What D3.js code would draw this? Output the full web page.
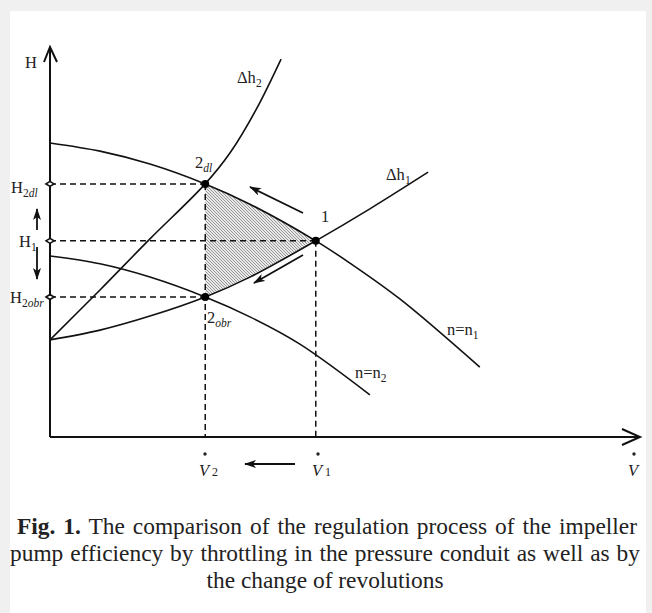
<!DOCTYPE html>
<html>
<head>
<meta charset="utf-8">
<script src="https://cdn.jsdelivr.net/npm/d3@7"></script>
<style>
	body { margin: 0; background: #f0f0f0; }
	#wrap { position: relative; width: 652px; height: 613px; }
	.cap { position: absolute; left: 10px; width: 630px; font-family: 'Liberation Serif', 'Times New Roman', serif; font-size: 23.4px; color: #222; line-height: 27px; white-space: nowrap; }
	.just { text-align: justify; text-align-last: justify; }
	.ctr { text-align: center; }
</style>
</head>
<body>
<div id="wrap"></div>
<script>

/***********************************************************************/
//Data (V and H in relative units)
/***********************************************************************/
const n1Curve = [[0, 7.54], [0.85, 7.33], [1.70, 7.00], [2.64, 6.49], [3.40, 5.97], [4.52, 5.03], [5.10, 4.46], [5.95, 3.54], [7.31, 1.79]]
const n2Curve = [[0, 4.64], [0.85, 4.44], [1.70, 4.10], [2.64, 3.59], [3.40, 3.08], [4.25, 2.38], [5.44, 1.08]]
const dh1Curve = [[0, 2.49], [0.85, 2.74], [1.70, 3.10], [2.64, 3.59], [3.40, 4.10], [4.52, 5.03], [5.44, 5.85], [6.43, 6.79]]
const dh2Curve = [[0, 2.49], [0.85, 3.77], [1.70, 5.08], [2.64, 6.49], [3.06, 7.28], [3.50, 8.38], [3.93, 9.69]]

const points = [
	{ id: '2dl', v: 2.64, h: 6.49 },
	{ id: '1', v: 4.52, h: 5.03 },
	{ id: '2obr', v: 2.64, h: 3.59 }
]
const V1 = 4.52, V2 = 2.64
const hLevels = [6.49, 5.03, 3.59]

const captionLines = [
	'The comparison of the regulation process of the impeller',
	'pump efficiency by throttling in the pressure conduit as well as by',
	'the change of revolutions'
]

/***********************************************************************/
//Plot Area
/***********************************************************************/
const width = 652
const height = 613
const font = "'Liberation Serif', 'Times New Roman', serif"
const ink = '#222'

const wrap = d3.select('#wrap')
const svg = wrap.append('svg')
	.attr('width', width)
	.attr('height', height)
	.style('position', 'absolute')
	.style('left', 0)
	.style('top', 0)

svg.append('rect')
	.attr('x', 10).attr('y', 11)
	.attr('width', 636).attr('height', height - 11)
	.attr('fill', '#fff')

const defs = svg.append('defs')

const hatch = defs.append('pattern')
	.attr('id', 'hatch')
	.attr('patternUnits', 'userSpaceOnUse')
	.attr('width', 3).attr('height', 3)
hatch.append('rect').attr('width', 3).attr('height', 3).attr('fill', '#e8e8e8')
hatch.append('path')
	.attr('d', 'M-1,-1 L4,4 M-1,2 L1,4 M2,-1 L4,1')
	.attr('stroke', '#777')
	.attr('stroke-width', 0.7)

const marker = (id) => defs.append('marker')
	.attr('id', id)
	.attr('viewBox', '0 0 12 8')
	.attr('refX', 11).attr('refY', 4)
	.attr('markerWidth', 12).attr('markerHeight', 8)
	.attr('markerUnits', 'userSpaceOnUse')
	.attr('orient', 'auto')
	.append('path')
	.attr('d', 'M0,0 L12,4 L0,8 L3,4 z')
	.attr('fill', '#111')
marker('arr')

/***********************************************************************/
//Scale
/***********************************************************************/
const x = d3.scaleLinear().domain([0, 10]).range([50, 638])
const y = d3.scaleLinear().domain([0, 10]).range([437, 47])

const curve = d3.curveCatmullRom.alpha(0.5)
const line = d3.line().x(d => x(d[0])).y(d => y(d[1])).curve(curve)

/***********************************************************************/
//Hatched region between n1 and dh1, from V2 to V1
/***********************************************************************/
defs.append('clipPath').attr('id', 'clipX')
	.append('rect')
	.attr('x', x(V2)).attr('y', 0)
	.attr('width', x(V1) - x(V2)).attr('height', height)

defs.append('clipPath').attr('id', 'underN1')
	.append('path')
	.attr('d', d3.area().x(d => x(d[0])).y0(y(0)).y1(d => y(d[1])).curve(curve)(n1Curve))

svg.append('g')
	.attr('clip-path', 'url(#clipX)')
	.append('path')
	.attr('clip-path', 'url(#underN1)')
	.attr('d', d3.area().x(d => x(d[0])).y0(y(10)).y1(d => y(d[1])).curve(curve)(dh1Curve))
	.attr('fill', 'url(#hatch)')

/***********************************************************************/
//Dashed guides
/***********************************************************************/
const gGuides = svg.append('g')
	.attr('stroke', '#111')
	.attr('stroke-width', 1.5)
	.attr('stroke-dasharray', '6 4')

const guideX = [V2, V1, V2]
hLevels.forEach((h, i) => {
	gGuides.append('line')
		.attr('x1', x(0)).attr('x2', x(guideX[i]))
		.attr('y1', y(h)).attr('y2', y(h))
})
;[[V2, 6.49], [V1, 5.03]].forEach(([v, h]) => {
	gGuides.append('line')
		.attr('x1', x(v)).attr('x2', x(v))
		.attr('y1', y(h)).attr('y2', y(0))
})

/***********************************************************************/
//Curves
/***********************************************************************/
;[n1Curve, n2Curve, dh1Curve, dh2Curve].forEach(c => {
	svg.append('path')
		.datum(c)
		.attr('fill', 'none')
		.attr('stroke', '#111')
		.attr('stroke-width', 1.6)
		.attr('d', line)
})

/***********************************************************************/
//Axes
/***********************************************************************/
const gAxis = svg.append('g')
	.attr('stroke', '#111')
	.attr('stroke-width', 2)
	.attr('fill', 'none')

gAxis.append('path')
	.attr('d', `M${x(0)},${y(0)} L${x(0)},${y(10) + 1} M${x(0) - 6},${y(10) + 15} L${x(0)},${y(10)} L${x(0) + 7},${y(10) + 15}`)
gAxis.append('path')
	.attr('d', `M${x(0)},${y(0)} L${x(10) + 1},${y(0)} M${x(10) - 16},${y(0) - 8} L${x(10) + 2},${y(0)} L${x(10) - 16},${y(0) + 8}`)

hLevels.forEach(h => {
	svg.append('path')
		.attr('d', `M${x(0) - 4},${y(h)} L${x(0)},${y(h) - 2.5} L${x(0) + 4},${y(h)} L${x(0)},${y(h) + 2.5} Z`)
		.attr('fill', '#fff')
		.attr('stroke', '#111')
		.attr('stroke-width', 1.6)
})

points.forEach(p => {
	svg.append('circle')
		.attr('cx', x(p.v)).attr('cy', y(p.h))
		.attr('r', 4)
		.attr('fill', '#000')
})

/***********************************************************************/
//Arrows
/***********************************************************************/
const arrows = [
	[303, 213, 250, 187],
	[303, 255, 254, 283],
	[295, 464, 245, 464],
	[37, 230, 37, 209],
	[37, 247, 37, 279]
]
arrows.forEach(([x1, y1, x2, y2]) => {
	svg.append('line')
		.attr('x1', x1).attr('y1', y1)
		.attr('x2', x2).attr('y2', y2)
		.attr('stroke', '#111')
		.attr('stroke-width', 1.8)
		.attr('marker-end', 'url(#arr)')
})

/***********************************************************************/
//Labels
/***********************************************************************/
const gLabels = svg.append('g')
	.attr('font-family', font)
	.attr('font-size', 16.5)
	.attr('fill', ink)

function label(px, py, main, sub) {
	const t = gLabels.append('text').attr('x', px).attr('y', py)
	t.append('tspan').text(main)
	if (sub) {
		sub.forEach(([s, it]) => {
			t.append('tspan')
				.attr('font-size', 11.5)
				.attr('font-style', it ? 'italic' : 'normal')
				.attr('baseline-shift', '-30%')
				.text(s)
		})
	}
	return t
}

label(25, 68, 'H')
label(11, 193, 'H', [['2'], ['dl', true]])
label(19, 247, 'H', [['1']])
label(10, 303, 'H', [['2'], ['obr', true]])
label(195, 168, '2', [['dl', true]])
label(321, 222, '1')
label(207, 323, '2', [['obr', true]])
label(237, 83, 'Δh', [['2']])
label(386, 180, 'Δh', [['1']])
label(447, 335, 'n=n', [['1']])
label(355, 378, 'n=n', [['2']])

const vLabels = [[199, '2'], [312, '1'], [628, '']]
vLabels.forEach(([px, s]) => {
	const t = gLabels.append('text').attr('x', px).attr('y', 476)
	t.append('tspan').attr('font-style', 'italic').text('V')
	if (s) t.append('tspan').attr('font-size', 12).attr('dx', 3).text(s)
	gLabels.append('circle').attr('cx', px + 6).attr('cy', 454).attr('r', 1.7).attr('fill', ink)
})

/***********************************************************************/
//Caption
/***********************************************************************/
const capTops = [513, 540, 567]
captionLines.forEach((txt, i) => {
	const div = wrap.append('div')
		.attr('class', 'cap ' + (i < 2 ? 'just' : 'ctr'))
		.style('top', capTops[i] + 'px')
	if (i === 0) {
		div.style('left', '17px').style('width', '620px')
		div.html('<b>Fig. 1.</b> ' + txt)
	} else {
		div.text(txt)
	}
})
</script>
</body>
</html>
